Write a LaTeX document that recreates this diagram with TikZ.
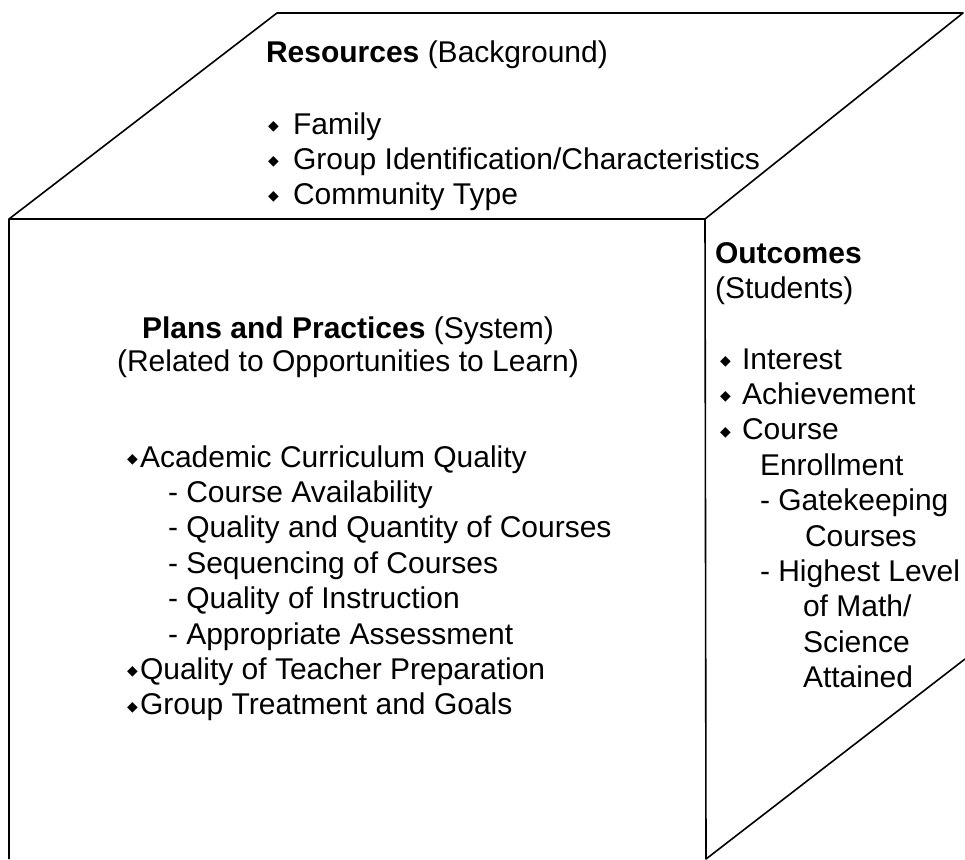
\documentclass[tikz,border=0pt]{standalone}
\usepackage{fontspec}
\setmainfont{Liberation Sans}
\newfontfamily\symfont{DejaVu Sans}
\newcommand\dia[1]{\makebox[#1][l]{\raisebox{3.5pt}{\symfont\fontsize{14}{14}\selectfont ◆}}}

\begin{document}
\begin{tikzpicture}[x=1pt, y=-1pt,
    edge/.style = {line width=1.6pt, line join=round},% cube outline
     txt/.style = {anchor=base west, inner sep=0pt, outer sep=0pt,
                   font=\fontsize{30}{35}\selectfont},
                    ]
\useasboundingbox (0,0) rectangle (965,859);
% corners of the cube
\coordinate (ftl) at (9,219);
\coordinate (ftr) at (705,219);
\coordinate (fbl) at (9,859);
\coordinate (fbr) at (706,859);
\coordinate (btl) at (277,13);
\coordinate (btr) at (963,13);
\coordinate (brb) at (965,659);
\draw[edge] (fbl) -- (ftl) -- (btl) -- (btr) -- (ftr) -- (ftl);
\draw[edge] (ftr) -- (fbr) -- (brb);
% top face
\node[txt] (res) at (266,63) {\textbf{Resources} (Background)};
\foreach \t [count=\i] in {Family,{Group Identification/Characteristics},Community Type}
    \node[txt] (res-\i) at (268,99+35*\i) {\dia{25pt}\t};
% front face
\node[txt, anchor=base] (plan) at (348,338) {\textbf{Plans and Practices} (System)};
\node[txt, anchor=base] (plan-sub) at (348,371) {(Related to Opportunities to Learn)};
\foreach \x/\t [count=\i] in {127/{\dia{13pt}Academic Curriculum Quality},
        168/{- Course Availability}, 168/{- Quality and Quantity of Courses},
        168/{- Sequencing of Courses}, 168/{- Quality of Instruction},
        168/{- Appropriate Assessment}, 127/{\dia{13pt}Quality of Teacher Preparation},
        127/{\dia{13pt}Group Treatment and Goals}}
    \node[txt] (plan-\i) at (\x,431.6+35.4*\i) {\t};
% right face
\node[txt] (out) at (715,263) {\textbf{Outcomes}};
\node[txt] (out-sub) at (715,298) {(Students)};
\foreach \x/\t [count=\i] in {720/{\dia{22pt}Interest}, 720/{\dia{22pt}Achievement},
        720/{\dia{22pt}Course}, 760/Enrollment, 760/{- Gatekeeping}, 805/Courses,
        760/{- Highest Level}, 803/{of Math/}, 803/Science, 803/Attained}
    \node[txt] (out-\i) at (\x,333.6+35.4*\i) {\t};
\end{tikzpicture}
\end{document}
